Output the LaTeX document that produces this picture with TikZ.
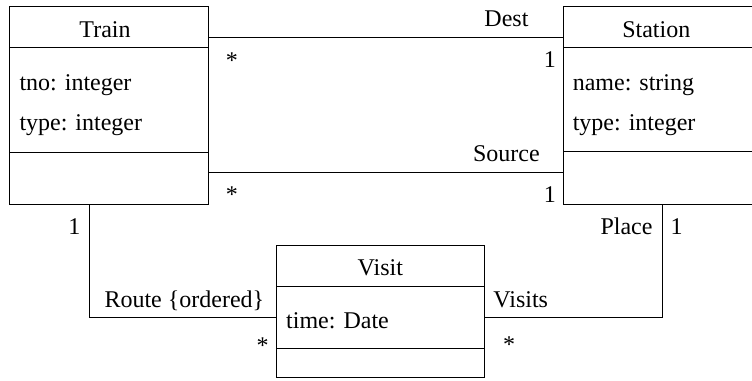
\documentclass[tikz,border=0pt]{standalone}
\usepackage{fontspec}
\setmainfont{Liberation Serif}
\usetikzlibrary{positioning}

\begin{document}
\begin{tikzpicture}[x=0.5pt, y=-0.5pt, line width=0.5pt,
  umlclass/.style={rectangle, draw, anchor=north west, inner sep=0pt, outer sep=0pt},
  cname/.style={anchor=base, inner sep=0pt, font=\fontsize{12}{14}\selectfont},
  attr/.style={anchor=base west, inner sep=0pt, font=\fontsize{12}{14}\selectfont},
  lbl/.style={anchor=base, inner sep=0pt, font=\fontsize{12}{14}\selectfont},
  line/.style={draw}]
  \useasboundingbox (0,0) rectangle (752,381);
  \node [umlclass, minimum width=99pt, minimum height=99pt] (train) at (10,6) {};
  \node [umlclass, minimum width=97pt, minimum height=99pt] (station) at (563.3,6) {};
  \node [umlclass, minimum width=103.65pt, minimum height=66pt] (visit) at (276.7,245.7) {};
  \foreach \c/\h/\a in {train/20.85/73.15, station/20.85/72.85, visit/20.5/51.15} {
    \draw ([yshift=-\h pt]\c.north west) -- ([yshift=-\h pt]\c.north east);
    \draw ([yshift=-\a pt]\c.north west) -- ([yshift=-\a pt]\c.north east);
  }
  \node [cname, xshift=-2pt] (train-name) at ([yshift=-15.5pt]train.north) {Train};
  \node [attr] (train-tno) at ([shift={(4.5pt,-42pt)}]train.north west) {tno: integer};
  \node [attr, below=20pt of train-tno.base west, anchor=base west] (train-type) {type: integer};
  \node [cname, xshift=-2pt] (station-name) at ([yshift=-15.5pt]station.north) {Station};
  \node [attr] (station-name-attr) at ([shift={(4.5pt,-42pt)}]station.north west) {name: string};
  \node [attr, below=20pt of station-name-attr.base west, anchor=base west] (station-type) {type: integer};
  \node [cname] (visit-name) at ([yshift=-15pt]visit.north) {Visit};
  \node [attr] (visit-time) at ([shift={(4.5pt,-41.3pt)}]visit.north west) {time: Date};
  \draw [line] ([yshift=-15.85pt]train.north east) --
    node [lbl, pos=0.84, yshift=5.5pt] (dest) {Dest}
    node [lbl, at start, xshift=12pt, yshift=-15.5pt] (dest-m1) {*}
    node [lbl, at end, xshift=-6.75pt, yshift=-15pt] (dest-m2) {1}
    ([yshift=-15.85pt]station.north west);
  \draw [line] ([yshift=-83.35pt]train.north east) --
    node [lbl, pos=0.84, yshift=5.5pt] (source) {Source}
    node [lbl, at start, xshift=12pt, yshift=-15pt] (source-m1) {*}
    node [lbl, at end, xshift=-6.75pt, yshift=-15pt] (source-m2) {1}
    ([yshift=-83.35pt]station.north west);
  \draw [line] ([xshift=39.7pt]train.south west) |-
    node [lbl, at start, xshift=-7.5pt, yshift=-15pt] (route-m1) {1}
    node [lbl, at end, anchor=base east, xshift=-6pt, yshift=5pt] (route) {Route \{ordered\}}
    node [lbl, at end, xshift=-7pt, yshift=-18pt] (route-m2) {*}
    ([yshift=-36pt]visit.north west);
  \draw [line] ([xshift=49.7pt]station.south west) |-
    node [lbl, at start, anchor=base east, xshift=-4.85pt, yshift=-15pt] (place) {Place}
    node [lbl, at start, xshift=7pt, yshift=-15pt] (place-m) {1}
    node [lbl, at end, anchor=base west, xshift=4.5pt, yshift=5pt] (visits) {Visits}
    node [lbl, at end, xshift=12.5pt, yshift=-17.5pt] (visits-m) {*}
    ([yshift=-36pt]visit.north east);
\end{tikzpicture}
\end{document}
